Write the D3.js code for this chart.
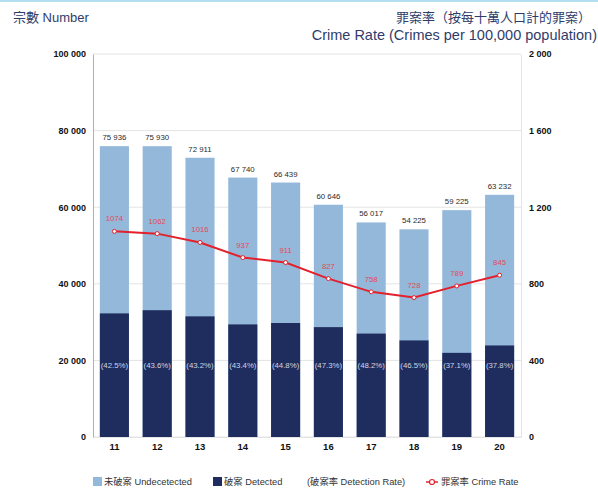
<!DOCTYPE html>
<html>
<head>
<meta charset="utf-8">
<script src="https://cdn.jsdelivr.net/npm/d3@7"></script>
<style>
  body { margin: 0; background: #fff; }
  svg { font-family: "Liberation Sans", "Noto Sans CJK TC", sans-serif; }
</style>
</head>
<body>
<div id="chart"></div>
<script>
// data
var years = ["11", "12", "13", "14", "15", "16", "17", "18", "19", "20"];
var totals = [75936, 75930, 72911, 67740, 66439, 60646, 56017, 54225, 59225, 63232];
var detected = [32273, 33106, 31498, 29399, 29765, 28686, 27000, 25215, 21972, 23902];
var detectRate = ["42.5", "43.6", "43.2", "43.4", "44.8", "47.3", "48.2", "46.5", "37.1", "37.8"];
var crimeRate = [1074, 1062, 1016, 937, 911, 827, 758, 728, 789, 845];
var leftTicks = [0, 20000, 40000, 60000, 80000, 100000];
var rightTicks = [0, 400, 800, 1200, 1600, 2000];

var W = 598, H = 494;
var margin = {top: 54, right: 77, bottom: 57, left: 93},
    width = W - margin.left - margin.right,
    height = H - margin.top - margin.bottom;

var lightBlue = "#93b8da", navy = "#1f2d5e", red = "#e3202b", titleCol = "#2f3c6a";

var svg = d3.select("#chart").append("svg")
    .attr("width", W)
    .attr("height", H);

// top strip
svg.append("rect").attr("x", 0).attr("y", 0).attr("width", W).attr("height", 2).attr("fill", "#b3dff0");

// titles
svg.append("text").attr("x", 13).attr("y", 22)
    .attr("fill", titleCol).style("font-size", "13px")
    .text("宗數 Number");
svg.append("text").attr("x", 591).attr("y", 22).attr("text-anchor", "end")
    .attr("fill", titleCol).style("font-size", "13px")
    .text("罪案率（按每十萬人口計的罪案）");
svg.append("text").attr("x", 597).attr("y", 40).attr("text-anchor", "end")
    .attr("fill", titleCol).style("font-size", "14.5px")
    .text("Crime Rate (Crimes per 100,000 population)");

var g = svg.append("g")
    .attr("transform", "translate(" + margin.left + "," + margin.top + ")");

var x = d3.scaleBand().domain(years).range([0, width]).paddingInner(0.32).paddingOuter(0.16);
var y = d3.scaleLinear().domain([0, 100000]).range([height, 0]);
var y2 = d3.scaleLinear().domain([0, 2000]).range([height, 0]);

var spaceFmt = function(d) { return d3.format(",")(d).replace(/,/g, " "); };

// gridlines
g.selectAll(".grid").data(leftTicks).enter().append("line")
    .attr("x1", 0).attr("x2", width)
    .attr("y1", function(d) { return y(d); })
    .attr("y2", function(d) { return y(d); })
    .attr("stroke", "#e4e4e4").attr("stroke-width", 1);

// left axis
var yAxis = g.append("g")
    .call(d3.axisLeft(y).tickValues(leftTicks).tickSize(0).tickPadding(7).tickFormat(spaceFmt));
yAxis.select(".domain").attr("stroke", "#b0b0b0");
yAxis.selectAll("text").style("font-size", "9px").style("font-weight", "bold").attr("fill", "#111");

// right axis
var yAxis2 = g.append("g")
    .attr("transform", "translate(" + width + ",0)")
    .call(d3.axisRight(y2).tickValues(rightTicks).tickSize(0).tickPadding(8).tickFormat(spaceFmt));
yAxis2.select(".domain").attr("stroke", "#e4e4e4");
yAxis2.selectAll("text").style("font-size", "9px").style("font-weight", "bold").attr("fill", "#111");

// bars - total (undetected on top)
g.selectAll(".total").data(years).enter().append("rect")
    .attr("x", function(d) { return x(d); })
    .attr("width", x.bandwidth())
    .attr("y", function(d, i) { return y(totals[i]); })
    .attr("height", function(d, i) { return height - y(totals[i]); })
    .attr("fill", lightBlue);

g.selectAll(".detected").data(years).enter().append("rect")
    .attr("x", function(d) { return x(d); })
    .attr("width", x.bandwidth())
    .attr("y", function(d, i) { return y(detected[i]); })
    .attr("height", function(d, i) { return height - y(detected[i]); })
    .attr("fill", navy);

// x axis labels
var xAxis = g.append("g")
    .attr("transform", "translate(0," + height + ")")
    .call(d3.axisBottom(x).tickSize(0).tickPadding(6));
xAxis.select(".domain").attr("stroke", "#e4e4e4");
xAxis.selectAll("text").style("font-size", "9.5px").style("font-weight", "bold").attr("fill", "#111");

// total labels
g.selectAll(".tlab").data(years).enter().append("text")
    .attr("x", function(d) { return x(d) + x.bandwidth() / 2; })
    .attr("y", function(d, i) { return y(totals[i]) - 6; })
    .attr("text-anchor", "middle")
    .style("font-size", "7.8px").attr("fill", "#2a2a2a")
    .text(function(d, i) { return spaceFmt(totals[i]); });

// detection rate labels
g.selectAll(".dlab").data(years).enter().append("text")
    .attr("x", function(d) { return x(d) + x.bandwidth() / 2; })
    .attr("y", y(18000))
    .attr("text-anchor", "middle")
    .style("font-size", "7.8px").attr("fill", "#cdd4e6")
    .text(function(d, i) { return "(" + detectRate[i] + "%)"; });

// crime rate line
var line = d3.line()
    .x(function(d, i) { return x(years[i]) + x.bandwidth() / 2; })
    .y(function(d) { return y2(d); });

g.append("path").datum(crimeRate)
    .attr("d", line)
    .attr("fill", "none").attr("stroke", red).attr("stroke-width", 2);

g.selectAll(".pt").data(crimeRate).enter().append("circle")
    .attr("cx", function(d, i) { return x(years[i]) + x.bandwidth() / 2; })
    .attr("cy", function(d) { return y2(d); })
    .attr("r", 2)
    .attr("fill", "#fff").attr("stroke", red).attr("stroke-width", 1);

g.selectAll(".rlab").data(crimeRate).enter().append("text")
    .attr("x", function(d, i) { return x(years[i]) + x.bandwidth() / 2; })
    .attr("y", function(d) { return y2(d) - 10; })
    .attr("text-anchor", "middle")
    .style("font-size", "7.8px").attr("fill", "#e54a55")
    .text(function(d) { return d; });

// legend
var leg = svg.append("g").attr("transform", "translate(0,482)");
leg.append("rect").attr("x", 93).attr("y", -5).attr("width", 9).attr("height", 9).attr("fill", lightBlue);
leg.append("text").attr("x", 104).attr("y", 3).style("font-size", "9.3px").attr("fill", "#333").text("未破案 Undecetected");
leg.append("rect").attr("x", 213).attr("y", -5).attr("width", 9).attr("height", 9).attr("fill", navy);
leg.append("text").attr("x", 224).attr("y", 3).style("font-size", "9.3px").attr("fill", "#333").text("破案 Detected");
leg.append("text").attr("x", 307).attr("y", 3).style("font-size", "9.3px").attr("fill", "#333").text("(破案率 Detection Rate)");
leg.append("line").attr("x1", 426).attr("x2", 438).attr("y1", 0).attr("y2", 0).attr("stroke", red).attr("stroke-width", 1.5);
leg.append("circle").attr("cx", 432).attr("cy", 0).attr("r", 2.5).attr("fill", "#fff").attr("stroke", red).attr("stroke-width", 1.2);
leg.append("text").attr("x", 441).attr("y", 3).style("font-size", "9.3px").attr("fill", "#333").text("罪案率 Crime Rate");
</script>
</body>
</html>
